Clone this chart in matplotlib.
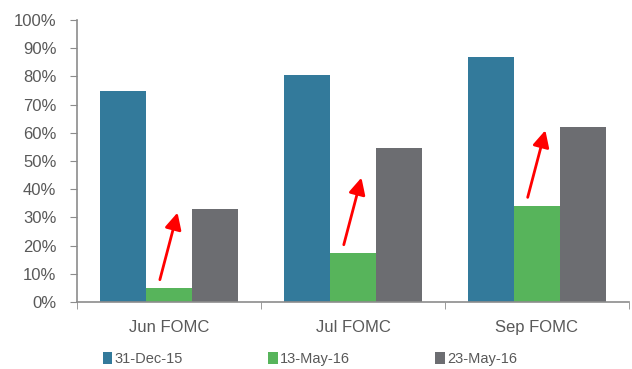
import numpy as np
import matplotlib
matplotlib.use("Agg")
from matplotlib import pyplot as plt
from matplotlib.ticker import PercentFormatter

# 数据
meetings = ['Jun FOMC', 'Jul FOMC', 'Sep FOMC']
dates = ['31-Dec-15', '13-May-16', '23-May-16']
dec_15 = [74.8, 80.6, 87.0]
may_13 = [4.9, 17.3, 34.1]
may_23 = [32.9, 54.6, 62.2]
colors = ['#337a9b', '#57b45b', '#6c6d71']

plt.rcParams['font.family'] = ['Liberation Sans', 'DejaVu Sans']

fig = plt.figure(figsize=(6.32, 3.69), dpi=100)
ax = fig.add_axes([0.122, 0.1816, 0.873, 0.7642])

x = np.arange(len(meetings))
width = 0.25
for i, (vals, label, c) in enumerate(zip([dec_15, may_13, may_23], dates, colors)):
    ax.bar(x + (i - 1) * width, vals, width, color=c, label=label, zorder=2)

# 红色箭头：从 13-May 升至 23-May
for xi, g in zip(x, may_13):
    ax.annotate('', xy=(xi + 0.046, g + 26.8), xytext=(xi - 0.05, g + 3.0),
                arrowprops=dict(arrowstyle='-|>,head_length=1.0,head_width=0.5',
                                color='#ff0000', lw=2.0, shrinkA=0, shrinkB=0))

ax.set_xlim(-0.5, 2.5)
ax.set_ylim(0, 100)
ax.set_yticks(np.arange(0, 101, 10))
ax.yaxis.set_major_formatter(PercentFormatter(decimals=0))
ax.set_xticks(x)
ax.set_xticklabels(meetings)
ax.set_xticks([-0.5, 0.5, 1.5, 2.5], minor=True)

for s in ['top', 'right']:
    ax.spines[s].set_visible(False)
for s in ['left', 'bottom']:
    ax.spines[s].set_color('#8c8c8c')
    ax.spines[s].set_linewidth(1.2)

ax.tick_params(axis='y', which='major', direction='out', length=5, color='#8c8c8c',
               labelsize=12, labelcolor='#595959', pad=10)
ax.tick_params(axis='x', which='major', length=0, labelsize=12, labelcolor='#595959', pad=13)
ax.tick_params(axis='x', which='minor', direction='out', length=5, color='#8c8c8c')

leg = fig.legend(loc='lower left', bbox_to_anchor=(0.142, -0.027), ncol=3, frameon=False,
                 fontsize=10.5, handlelength=0.65, handleheight=0.9, handletextpad=0.15,
                 columnspacing=5.85, labelcolor='#595959')

fig.savefig('out.png', dpi=100)
